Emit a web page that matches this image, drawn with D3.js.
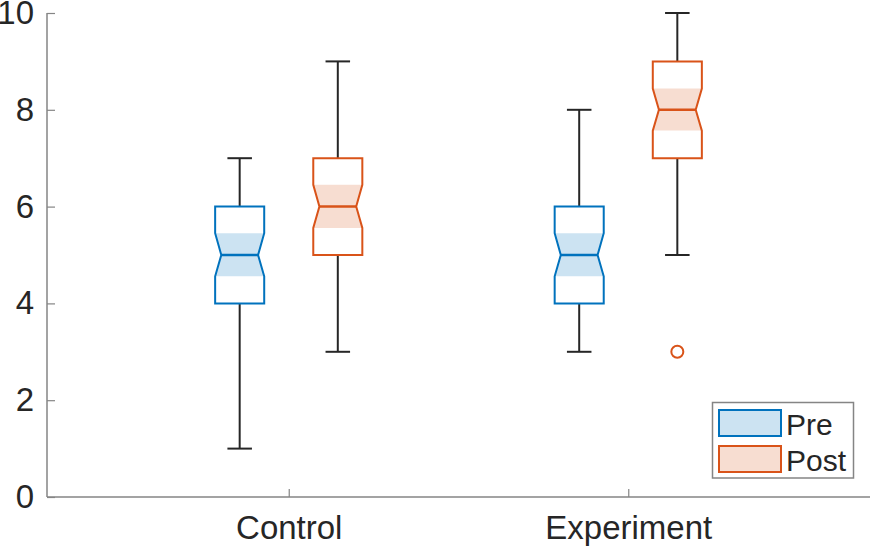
<!DOCTYPE html>
<html>
<head>
<meta charset="utf-8">
<script src="https://cdn.jsdelivr.net/npm/d3@7"></script>
<style>
  html, body { margin: 0; padding: 0; background: #fff; }
  svg { display: block; font-family: "Liberation Sans", Arial, Helvetica, sans-serif; }
</style>
</head>
<body>
<svg id="chart" width="873" height="549"></svg>
<script>
// ---- Data ----
const groups = ["Control", "Experiment"];
const seriesNames = ["Pre", "Post"];
const yTicks = [0, 2, 4, 6, 8, 10];

const preMin    = [1, 3];
const preQ1     = [4, 4];
const preMedian = [5, 5];
const preQ3     = [6, 6];
const preMax    = [7, 8];
const preNotchLo = [4.56, 4.56];
const preNotchHi = [5.45, 5.45];
const preOutliers = [[], []];

const postMin    = [3, 5];
const postQ1     = [5, 7];
const postMedian = [6, 8];
const postQ3     = [7, 9];
const postMax    = [9, 10];
const postNotchLo = [5.56, 7.57];
const postNotchHi = [6.45, 8.44];
const postOutliers = [[], [3]];

const colors = ["#0072BD", "#D95319"];
const fills  = ["rgba(0,114,189,0.2)", "rgba(217,83,25,0.2)"];

// ---- Build per-series tables ----
function build(si, mn, q1, md, q3, mx, nlo, nhi, outs) {
  return groups.map((g, i) => ({
    group: g, series: seriesNames[si], si: si,
    min: mn[i], q1: q1[i], median: md[i], q3: q3[i], max: mx[i],
    notchLo: nlo[i], notchHi: nhi[i], outliers: outs[i]
  }));
}
const boxes = [
  ...build(0, preMin, preQ1, preMedian, preQ3, preMax, preNotchLo, preNotchHi, preOutliers),
  ...build(1, postMin, postQ1, postMedian, postQ3, postMax, postNotchLo, postNotchHi, postOutliers)
];

// ---- Layout ----
const svg = d3.select("#chart");
const mLeft = 47, mRight = 870, mTop = 13, mBottom = 497;

const x = d3.scalePoint().domain(groups).range([mLeft, mRight]).padding(0.712);
const y = d3.scaleLinear().domain([0, 10]).range([mBottom, mTop]);
const step = x.step();
const boxW = step * 0.1445;
const offset = step * 0.1445;
const notchIn = boxW * 0.125;
const capW = boxW * 0.5;
const textColor = "#262626";
const axisColor = "#858585";

// ---- Axes ----
const gx = svg.append("g").attr("transform", `translate(0,${mBottom})`)
  .call(d3.axisBottom(x).tickSizeInner(-8).tickSizeOuter(0).tickPadding(19));
const gy = svg.append("g").attr("transform", `translate(${mLeft},0)`)
  .call(d3.axisLeft(y).tickValues(yTicks).tickSizeInner(-8).tickSizeOuter(0).tickPadding(13));

[gx, gy].forEach(g => {
  g.select(".domain").attr("stroke", axisColor).attr("stroke-width", 1.5);
  g.selectAll(".tick line").attr("stroke", axisColor).attr("stroke-width", 1.2);
  g.selectAll(".tick text").attr("fill", textColor).attr("font-size", 33)
    .attr("font-family", "'Liberation Sans', Arial, Helvetica, sans-serif");
});
gx.select(".domain").attr("d", `M${mLeft},0H${mRight}`);
gy.select(".domain").attr("d", `M0,${mBottom}V${mTop}`);
gx.selectAll(".tick text").attr("dy", "0.71em");

// ---- Boxes ----
const bg = svg.append("g");
boxes.forEach(b => {
  const cx = x(b.group) + (b.si === 0 ? -offset : offset);
  const xl = cx - boxW / 2, xr = cx + boxW / 2;
  const col = colors[b.si];

  // whiskers
  bg.append("line").attr("x1", cx).attr("x2", cx).attr("y1", y(b.q3)).attr("y2", y(b.max))
    .attr("stroke", textColor).attr("stroke-width", 2);
  bg.append("line").attr("x1", cx).attr("x2", cx).attr("y1", y(b.q1)).attr("y2", y(b.min))
    .attr("stroke", textColor).attr("stroke-width", 2);
  bg.append("line").attr("x1", cx - capW / 2).attr("x2", cx + capW / 2).attr("y1", y(b.max)).attr("y2", y(b.max))
    .attr("stroke", textColor).attr("stroke-width", 2);
  bg.append("line").attr("x1", cx - capW / 2).attr("x2", cx + capW / 2).attr("y1", y(b.min)).attr("y2", y(b.min))
    .attr("stroke", textColor).attr("stroke-width", 2);

  // notch fill region
  const fillPts = [
    [xl, y(b.notchHi)], [xr, y(b.notchHi)], [xr - notchIn, y(b.median)],
    [xr, y(b.notchLo)], [xl, y(b.notchLo)], [xl + notchIn, y(b.median)]
  ];
  bg.append("path").attr("d", d3.line()(fillPts) + "Z").attr("fill", fills[b.si]).attr("stroke", "none");

  // outline
  const pts = [
    [xl, y(b.q3)], [xr, y(b.q3)], [xr, y(b.notchHi)], [xr - notchIn, y(b.median)],
    [xr, y(b.notchLo)], [xr, y(b.q1)], [xl, y(b.q1)], [xl, y(b.notchLo)],
    [xl + notchIn, y(b.median)], [xl, y(b.notchHi)]
  ];
  bg.append("path").attr("d", d3.line()(pts) + "Z").attr("fill", "none")
    .attr("stroke", col).attr("stroke-width", 2).attr("stroke-linejoin", "miter");
  // median
  bg.append("line").attr("x1", xl + notchIn).attr("x2", xr - notchIn)
    .attr("y1", y(b.median)).attr("y2", y(b.median)).attr("stroke", col).attr("stroke-width", 2.5);

  // outliers
  b.outliers.forEach(v => {
    bg.append("circle").attr("cx", cx).attr("cy", y(v)).attr("r", 6)
      .attr("fill", "none").attr("stroke", col).attr("stroke-width", 2);
  });
});

// ---- Legend ----
const lg = svg.append("g");
lg.append("rect").attr("x", 712.5).attr("y", 402.5).attr("width", 141).attr("height", 75.5)
  .attr("fill", "#fff").attr("stroke", axisColor).attr("stroke-width", 1.5);
seriesNames.forEach((s, i) => {
  const yy = 410 + i * 36;
  lg.append("rect").attr("x", 719).attr("y", yy).attr("width", 62).attr("height", 26)
    .attr("fill", fills[i]).attr("stroke", colors[i]).attr("stroke-width", 2);
  lg.append("text").attr("x", 786).attr("y", yy + 14).attr("dy", "0.36em")
    .attr("font-size", 30).attr("fill", textColor).text(s);
});
</script>
</body>
</html>
